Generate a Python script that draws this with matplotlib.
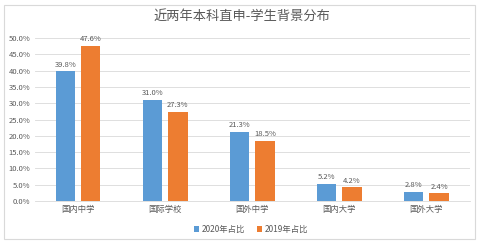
import numpy as np
import matplotlib.pyplot as plt
from matplotlib.patches import Rectangle

plt.rcParams['font.family'] = ['Noto Sans CJK SC', 'DejaVu Sans']

categories = ['国内中学', '国际学校', '国外中学', '国内大学', '国外大学']
share_2020 = [39.8, 31.0, 21.3, 5.2, 2.8]
share_2019 = [47.6, 27.3, 18.5, 4.2, 2.4]
series_names = ['2020年占比', '2019年占比']
y_ticks = [0, 5, 10, 15, 20, 25, 30, 35, 40, 45, 50]

blue = '#5B9BD5'
orange = '#ED7D31'
text_grey = '#595959'

fig = plt.figure(figsize=(4.83, 2.44), dpi=100)
fig.patches.append(Rectangle((0.008, 0.02), 0.975, 0.96, transform=fig.transFigure,
                             fill=False, edgecolor='#d9d9d9', linewidth=0.8))

ax = fig.add_axes([0.072, 0.176, 0.901, 0.668])
x = np.arange(len(categories))
w = 0.22
off = 0.145
b1 = ax.bar(x - off, share_2020, w, color=blue, label=series_names[0], zorder=3)
b2 = ax.bar(x + off, share_2019, w, color=orange, label=series_names[1], zorder=3)

for bars, vals in [(b1, share_2020), (b2, share_2019)]:
    for b, v in zip(bars, vals):
        ax.text(b.get_x() + b.get_width() / 2, v + 0.8, f'{v:.1f}%',
                ha='center', va='bottom', fontsize=5.5, color=text_grey)

ax.set_xlim(-0.5, len(categories) - 0.5)
ax.set_ylim(0, 50)
ax.set_yticks(y_ticks)
ax.set_yticklabels([f'{t:.1f}%' for t in y_ticks], fontsize=5.5, color=text_grey)
ax.set_xticks(x)
ax.set_xticklabels(categories, fontsize=6, color=text_grey)
ax.tick_params(length=0, pad=3)
ax.yaxis.grid(True, color='#d9d9d9', linewidth=0.6, zorder=0)
for s in ['top', 'right', 'left']:
    ax.spines[s].set_visible(False)
ax.spines['bottom'].set_color('#d9d9d9')
ax.spines['bottom'].set_linewidth(0.6)

fig.text(0.5, 0.935, '近两年本科直申-学生背景分布', ha='center', va='center',
         fontsize=9.5, color=text_grey)

fig.legend(loc='center', bbox_to_anchor=(0.52, 0.06), ncol=2, frameon=False,
           fontsize=6, handlelength=0.6, handleheight=0.6, columnspacing=1.5,
           handletextpad=0.3, labelcolor=text_grey)

fig.savefig('out.png', dpi=100, facecolor='white')
